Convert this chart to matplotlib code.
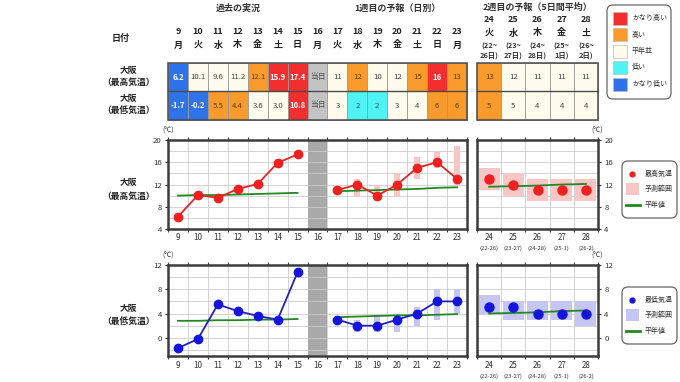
import matplotlib
matplotlib.use('Agg')
import matplotlib.pyplot as plt
from matplotlib.patches import Rectangle, FancyBboxPatch
import matplotlib.transforms as mtransforms

plt.rcParams['font.family'] = ['Noto Sans CJK JP', 'DejaVu Sans']

W, H = 680, 382

# ---- data ----
days_past = [9, 10, 11, 12, 13, 14, 15]
today = 16
days_fc = [17, 18, 19, 20, 21, 22, 23]
days_wk2 = [24, 25, 26, 27, 28]
weekdays_1 = ['月', '火', '水', '木', '金', '土', '日', '月',
              '火', '水', '木', '金', '土', '日', '月']
weekdays_2 = ['火', '水', '木', '金', '土']
periods_top = ['(22~\n26日)', '(23~\n27日)', '(24~\n28日)', '(25~\n1日)', '(26~\n2日)']
periods_axis = ['(22-26)', '(23-27)', '(24-28)', '(25-1)', '(26-2)']

tmax_past = [6.2, 10.1, 9.6, 11.2, 12.1, 15.9, 17.4]
tmax_fc = [11, 12, 10, 12, 15, 16, 13]
tmax_fc_lo = [None, 10, 9, 10, 13, 15, 12]
tmax_fc_hi = [None, 13, 12, 14, 17, 18, 19]
tmax_wk2 = [13, 12, 11, 11, 11]
tmax_wk2_lo = [11, 10, 9, 9, 9]
tmax_wk2_hi = [15, 14, 13, 13, 13]
tmax_norm_past = [10.0, 10.1, 10.1, 10.2, 10.3, 10.4, 10.5]
tmax_norm_fc = [10.8, 10.9, 11.0, 11.1, 11.2, 11.4, 11.5]
tmax_norm_wk2 = [11.6, 11.7, 11.8, 12.0, 12.1]
cat_max_past = ['vl', 'n', 'n', 'n', 'h', 'vh', 'vh']
cat_max_fc = ['n', 'h', 'n', 'n', 'h', 'vh', 'h']
cat_max_wk2 = ['h', 'n', 'n', 'n', 'n']

tmin_past = [-1.7, -0.2, 5.5, 4.4, 3.6, 3.0, 10.8]
tmin_fc = [3, 2, 2, 3, 4, 6, 6]
tmin_fc_lo = [None, 1, 1, 1, 2, 3, 4]
tmin_fc_hi = [None, 3, 4, 4, 5, 8, 8]
tmin_wk2 = [5, 5, 4, 4, 4]
tmin_wk2_lo = [4, 3, 3, 3, 2]
tmin_wk2_hi = [7, 6, 6, 6, 6]
tmin_norm_past = [2.8, 2.8, 2.9, 2.9, 3.0, 3.0, 3.1]
tmin_norm_fc = [3.4, 3.5, 3.6, 3.7, 3.7, 3.8, 3.9]
tmin_norm_wk2 = [4.0, 4.1, 4.2, 4.4, 4.5]
cat_min_past = ['vl', 'vl', 'h', 'h', 'n', 'n', 'vh']
cat_min_fc = ['n', 'l', 'l', 'n', 'n', 'h', 'h']
cat_min_wk2 = ['h', 'n', 'n', 'n', 'n']

legend_cats = ['vh', 'h', 'n', 'l', 'vl']
legend_names = ['かなり高い', '高い', '平年並', '低い', 'かなり低い']

# ---- styles ----
fill = {'vh': '#f22e2e', 'h': '#f99b2c', 'n': '#fffcee', 'l': '#4ff3f3',
        'vl': '#2f73ea', 'today': '#c3c3c3'}
tcol = {'vh': 'white', 'h': '#6a3b00', 'n': '#444444', 'l': '#1d5f6a',
        'vl': 'white', 'today': '#555555'}
SPINE = '#3c3c3c'
GREEN = '#228822'

fig = plt.figure(figsize=(W / 100, H / 100), dpi=100)
bg = fig.add_axes([0, 0, 1, 1])
bg.set_xlim(0, W)
bg.set_ylim(H, 0)
bg.axis('off')

# chart / table geometry in pixels
X1, X1R = 168, 467
X2, X2R = 477, 598
cw1 = (X1R - X1) / 15
cw2 = (X2R - X2) / 5
ROW_T, ROW_M, ROW_B = 63, 91, 120


def cell(x, y, w, h, txt, cat):
    bg.add_patch(Rectangle((x, y), w, h, facecolor=fill[cat],
                           edgecolor='#9a9a9a', lw=0.6))
    bold = cat in ('vh', 'vl')
    bg.text(x + w / 2, y + h / 2, txt, ha='center', va='center',
            fontsize=5.6, color=tcol[cat],
            fontweight='bold' if bold else 'normal')


# ---- table 1 ----
max_txt1 = [f'{v:.1f}' for v in tmax_past] + ['当日'] + [str(v) for v in tmax_fc]
min_txt1 = [f'{v:.1f}' for v in tmin_past] + ['当日'] + [str(v) for v in tmin_fc]
max_cat1 = cat_max_past + ['today'] + cat_max_fc
min_cat1 = cat_min_past + ['today'] + cat_min_fc
days1 = days_past + [today] + days_fc
for i, d in enumerate(days1):
    x = X1 + i * cw1
    cell(x, ROW_T, cw1, ROW_M - ROW_T, max_txt1[i], max_cat1[i])
    cell(x, ROW_M, cw1, ROW_B - ROW_M, min_txt1[i], min_cat1[i])
    bg.text(x + cw1 / 2, 32, str(d), ha='center', va='center', fontsize=6.5,
            fontweight='bold', color='#222')
    bg.text(x + cw1 / 2, 45, weekdays_1[i], ha='center', va='center',
            fontsize=6.5, fontweight='bold', color='#222')
bg.add_patch(Rectangle((X1, ROW_T), X1R - X1, ROW_B - ROW_T, fill=False,
                       edgecolor='#4a4a4a', lw=1.1))
bg.plot([X1, X1R], [ROW_M, ROW_M], color='#4a4a4a', lw=1.0)

# ---- table 2 ----
for i, d in enumerate(days_wk2):
    x = X2 + i * cw2
    cell(x, ROW_T, cw2, ROW_M - ROW_T, str(tmax_wk2[i]), cat_max_wk2[i])
    cell(x, ROW_M, cw2, ROW_B - ROW_M, str(tmin_wk2[i]), cat_min_wk2[i])
    bg.text(x + cw2 / 2, 20, str(d), ha='center', va='center', fontsize=6.5,
            fontweight='bold', color='#222')
    bg.text(x + cw2 / 2, 33, weekdays_2[i], ha='center', va='center',
            fontsize=6.5, fontweight='bold', color='#222')
    bg.text(x + cw2 / 2, 51, periods_top[i], ha='center', va='center',
            fontsize=5.3, fontweight='bold', color='#333', linespacing=1.3)
bg.add_patch(Rectangle((X2, ROW_T), X2R - X2, ROW_B - ROW_T, fill=False,
                       edgecolor='#4a4a4a', lw=1.1))
bg.plot([X2, X2R], [ROW_M, ROW_M], color='#4a4a4a', lw=1.0)

# titles
bg.text(X1 + 3.5 * cw1, 8, '過去の実況', ha='center', va='center', fontsize=6.5,
        fontweight='bold', color='#333')
bg.text(X1 + 11.5 * cw1, 8, '1週目の予報（日別）', ha='center', va='center',
        fontsize=6.5, fontweight='bold', color='#333')
bg.text((X2 + X2R) / 2, 7, '2週目の予報（5日間平均）', ha='center', va='center',
        fontsize=6.5, fontweight='bold', color='#333')
bg.text(121, 38, '日付', ha='center', va='center', fontsize=6.5,
        fontweight='bold', color='#222')
for yy, lab in [(70, '大阪'), (82, '（最高気温）'), (99, '大阪'), (111, '（最低気温）'),
                (182, '大阪'), (196, '（最高気温）'), (308, '大阪'), (322, '（最低気温）')]:
    bg.text(128, yy, lab, ha='center', va='center', fontsize=6.3,
            fontweight='bold', color='#222')

# table legend
bg.add_patch(FancyBboxPatch((607, 5), 64, 94, boxstyle='round,pad=0,rounding_size=6',
                            facecolor='white', edgecolor='#666', lw=0.9))
for k, (c, name) in enumerate(zip(legend_cats, legend_names)):
    yc = 18 + k * 16.5
    bg.add_patch(Rectangle((612.5, yc - 6.5), 14, 13, facecolor=fill[c],
                           edgecolor='#bbbbbb', lw=0.5))
    bg.text(632, yc, name, ha='left', va='center', fontsize=5, color='#333')


# ---- charts ----
def ax_at(x0, x1, y0, y1):
    return fig.add_axes([x0 / W, 1 - y1 / H, (x1 - x0) / W, (y1 - y0) / H])


def style(ax, ylim, ymajor, right=False):
    ax.set_ylim(*ylim)
    ax.set_yticks(ymajor)
    ax.set_yticks(range(int(ylim[0]) + (int(ylim[0]) % 2), int(ylim[1]) + 1, 2), minor=True)
    ax.grid(True, axis='y', which='both', color='#cccccc', lw=0.6, zorder=0)
    if right:
        ax.yaxis.tick_right()
    ax.tick_params(axis='y', which='major', labelsize=5.6, length=2.5,
                   colors='#333', pad=2)
    ax.tick_params(axis='y', which='minor', length=0)
    for s in ax.spines.values():
        s.set_color(SPINE)
        s.set_linewidth(1.8)
        s.set_zorder(5)


def xaxis_days(ax, lo, hi, labels, sub=None):
    bounds = [lo + k for k in range(int(hi - lo) + 1)]
    ax.set_xlim(lo, hi)
    ax.set_xticks(bounds)
    ax.set_xticklabels([])
    ax.tick_params(axis='x', which='major', length=2.5, top=True, bottom=True,
                   colors=SPINE, width=0.8)
    for b in bounds[1:-1]:
        ax.axvline(b, color='#cccccc', lw=0.6, zorder=0)
    trans = mtransforms.blended_transform_factory(ax.transData, ax.transAxes)
    for k, lab in enumerate(labels):
        ax.text(lo + 0.5 + k, -0.1, str(lab), transform=trans, ha='center',
                va='center', fontsize=5.8, color='#333')
        if sub is not None:
            ax.text(lo + 0.5 + k, -0.22, sub[k], transform=trans, ha='center',
                    va='center', fontsize=4.2, color='#333')


def draw_pair(y0, y1, ylim, ymajor, past, fc, fc_lo, fc_hi, n_past, n_fc,
              wk2, wk2_lo, wk2_hi, n_wk2, col, mcol, rcol):
    a1 = ax_at(X1, X1R, y0, y1)
    xaxis_days(a1, 8.5, 23.5, days1)
    style(a1, ylim, ymajor)
    a1.axvspan(today - 0.5, today + 0.5, color='#a9a9a9', zorder=1, lw=0)
    for d, lo, hi in zip(days_fc, fc_lo, fc_hi):
        if lo is not None:
            a1.bar(d, hi - lo, bottom=lo, width=0.3, color=rcol, zorder=2, lw=0)
    a1.plot(days_past, n_past, color=GREEN, lw=1.3, zorder=3)
    a1.plot(days_fc, n_fc, color=GREEN, lw=1.3, zorder=3)
    a1.plot(days_past, past, color=col, lw=1.3, marker='o', ms=6,
            mfc=mcol, mec=mcol, zorder=4)
    a1.plot(days_fc, fc, color=col, lw=1.3, marker='o', ms=6,
            mfc=mcol, mec=mcol, zorder=4)

    a2 = ax_at(X2, X2R, y0, y1)
    xaxis_days(a2, 23.5, 28.5, days_wk2, periods_axis)
    style(a2, ylim, ymajor, right=True)
    a2.bar(days_wk2, [h - l for l, h in zip(wk2_lo, wk2_hi)], bottom=wk2_lo,
           width=0.86, color=rcol, zorder=2, lw=0)
    a2.plot(days_wk2, n_wk2, color=GREEN, lw=1.3, zorder=3)
    a2.plot(days_wk2, wk2, ls='none', marker='o', ms=6.5, mfc=mcol, mec=mcol,
            zorder=4)
    fig.text(X1 / W, 1 - (y0 - 9) / H, '(℃)', ha='center', va='center',
             fontsize=5, color='#333')
    fig.text(X2R / W - 0.002, 1 - (y0 - 9) / H, '(℃)', ha='center',
             va='center', fontsize=5, color='#333')
    return a1, a2


draw_pair(140, 229, (4, 20), [4, 8, 12, 16, 20], tmax_past, tmax_fc,
          tmax_fc_lo, tmax_fc_hi, tmax_norm_past, tmax_norm_fc, tmax_wk2,
          tmax_wk2_lo, tmax_wk2_hi, tmax_norm_wk2, '#e52424', '#ee2020',
          '#f9c6c6')
draw_pair(265, 356, (-3, 12), [0, 4, 8, 12], tmin_past, tmin_fc,
          tmin_fc_lo, tmin_fc_hi, tmin_norm_past, tmin_norm_fc, tmin_wk2,
          tmin_wk2_lo, tmin_wk2_hi, tmin_norm_wk2, '#2222bb', '#1414dd',
          '#c6c6f4')


# chart legends
def chart_legend(y0, name, mcol, rcol):
    bg.add_patch(FancyBboxPatch((622, y0), 55, 57, boxstyle='round,pad=0,rounding_size=6',
                                facecolor='white', edgecolor='#666', lw=0.9))
    bg.plot([632], [y0 + 13], ls='none', marker='o', ms=3.5, mfc=mcol, mec=mcol)
    bg.add_patch(Rectangle((626, y0 + 22), 13, 12, facecolor=rcol, lw=0))
    bg.plot([626, 640], [y0 + 44, y0 + 44], color=GREEN, lw=2)
    for yy, lab in [(y0 + 13, name), (y0 + 28, '予測範囲'), (y0 + 44, '平年値')]:
        bg.text(645, yy, lab, ha='left', va='center', fontsize=5, color='#333')


chart_legend(161, '最高気温', '#ee2020', '#f9c6c6')
chart_legend(287, '最低気温', '#1414dd', '#c6c6f4')

fig.savefig('out.png', dpi=100)
